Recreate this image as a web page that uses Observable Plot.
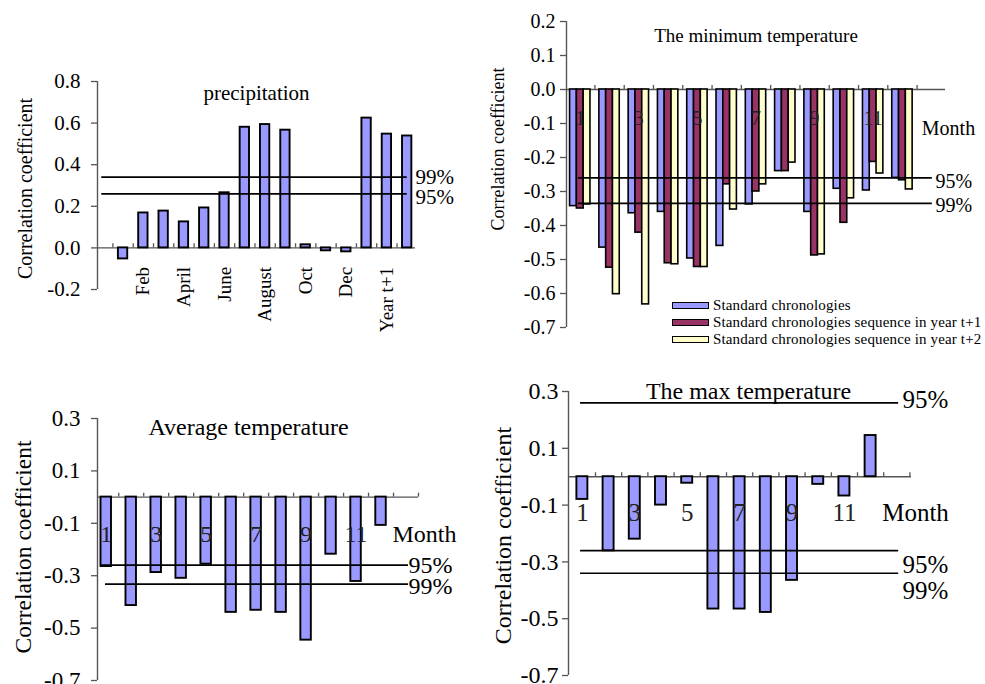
<!DOCTYPE html>
<html><head><meta charset="utf-8">
<script src="https://cdn.jsdelivr.net/npm/d3@7"></script>
<script src="https://cdn.jsdelivr.net/npm/@observablehq/plot@0.6"></script>
<style>
body{margin:0;background:#fff;}
#page{position:relative;width:985px;height:684px;overflow:hidden;font-family:"Liberation Serif","Times New Roman",serif;}
#page svg{position:absolute;overflow:visible;}
.legend{position:absolute;left:672px;top:297px;font-size:15px;line-height:17px;color:#000;letter-spacing:0.15px;}
.legend div{display:flex;align-items:center;height:17px;white-space:nowrap;}
.sw{width:35px;height:5px;border:1.8px solid #000;margin-right:4px;}
</style></head><body><div id="page"></div>
<script>
// ---------- data ----------
const months = [1,2,3,4,5,6,7,8,9,10,11,12];
const monthTickLabels = [1,3,5,7,9,11];

const precipCategories = ["Jan","Feb","March","April","May","June","July","August","Sep","Oct","Nov","Dec","Year t","Year t+1","Year t+2"];
const precipValues = [-0.053,0.168,0.177,0.125,0.192,0.265,0.58,0.593,0.566,0.015,-0.014,-0.019,0.624,0.547,0.538];
const precipThresholds = [{level:"99%", r:0.34},{level:"95%", r:0.26}];
const precipYTicks = [-0.2,0,0.2,0.4,0.6,0.8];

const minSeries = ["Standard chronologies","Standard chronologies sequence in year t+1","Standard chronologies sequence in year t+2"];
const minStd = [-0.343,-0.465,-0.364,-0.36,-0.497,-0.46,-0.338,-0.24,-0.36,-0.292,-0.297,-0.26];
const minT1  = [-0.35,-0.524,-0.421,-0.511,-0.522,-0.279,-0.30,-0.24,-0.488,-0.392,-0.213,-0.267];
const minT2  = [-0.338,-0.602,-0.632,-0.514,-0.522,-0.353,-0.279,-0.215,-0.485,-0.32,-0.247,-0.294];
const minThresholds = [{level:"95%", r:-0.26},{level:"99%", r:-0.335}];
const minYTicks = [0.2,0.1,0,-0.1,-0.2,-0.3,-0.4,-0.5,-0.6,-0.7];

const avgValues = [-0.265,-0.414,-0.288,-0.31,-0.256,-0.44,-0.432,-0.44,-0.546,-0.218,-0.322,-0.108];
const avgThresholds = [{level:"95%", r:-0.26},{level:"99%", r:-0.332}];

const maxValues = [-0.08,-0.261,-0.22,-0.1,-0.023,-0.466,-0.466,-0.478,-0.365,-0.027,-0.068,0.145];
const maxThresholds = [{level:"95%", r:0.26},{level:"95%", r:-0.26},{level:"99%", r:-0.34}];
const tempYTicks = [0.3,0.1,-0.1,-0.3,-0.5,-0.7];

const colors = ["#9999FF","#993366","#FFFFCC"];
const FONT = "Liberation Serif, Times New Roman, serif";
const page = document.getElementById("page");

function panel({left, top, width, height, margin, xDomain, yDomain, yTicks, tickPad, tickFont, tickLen, boundaries, marks}) {
  const svg = Plot.plot({
    width, height,
    marginTop: margin[0], marginRight: margin[1], marginBottom: margin[2], marginLeft: margin[3],
    x: {domain: xDomain, axis: null},
    y: {domain: yDomain, axis: null},
    style: {fontFamily: FONT, fontSize: tickFont + "px", background: "none", color: "#000", overflow: "visible"},
    marks: [
      Plot.ruleX([xDomain[0]], {stroke: "#555", strokeWidth: 1.4}),
      Plot.ruleY([0], {stroke: "#555", strokeWidth: 1.4}),
      Plot.ruleX(boundaries, {x: d => d, y1: 0, y2: tickLen, stroke: "#555", strokeWidth: 1.3}),
      Plot.axisY({ticks: yTicks, tickSize: 6, tickPadding: tickPad, tickFormat: d => d.toFixed(1), fontSize: tickFont, stroke: "#555", strokeWidth: 1.3, fill: "#000", label: null}),
      ...marks
    ]
  });
  svg.style.left = left + "px";
  svg.style.top = top + "px";
  page.appendChild(svg);
}

const BAR = {stroke: "#000", strokeWidth: 1.9};
const LINE = {stroke: "#000", strokeWidth: 1.7};

// ---------- A: precipitation ----------
const precipData = precipValues.map((v, i) => ({x: i + 1, v, name: precipCategories[i]}));
panel({
  left: 0, top: 60, width: 470, height: 300, margin: [21, 55, 71, 97],
  xDomain: [-0.26, 15.41], yDomain: [-0.2, 0.8], yTicks: precipYTicks, tickPad: 11, tickFont: 21,
  tickLen: 0.02, boundaries: d3.range(0.5, 15, 1),
  marks: [
    Plot.rect(precipData, {x1: d => d.x - 0.23, x2: d => d.x + 0.23, y1: 0, y2: "v", fill: colors[0], ...BAR}),
    Plot.ruleY(precipThresholds, {y: "r", x1: -0.05, x2: 15, ...LINE}),
    Plot.text(precipThresholds.slice(0,1), {y: "r", text: "level", frameAnchor: "right", textAnchor: "start", dy: 0, fontSize: 21}),
    Plot.text(precipThresholds.slice(1), {y: "r", text: "level", frameAnchor: "right", textAnchor: "start", dy: 3, fontSize: 21}),
    Plot.text(precipData.filter(d => d.x % 2 === 0), {x: "x", y: 0, text: "name", rotate: -90, textAnchor: "end", lineAnchor: "middle", dy: 19, fontSize: 19}),
    Plot.text(["precipitation"], {frameAnchor: "top", lineAnchor: "middle", dy: 12, fontSize: 21}),
    Plot.text(["Correlation coefficient"], {frameAnchor: "left", rotate: -90, textAnchor: "middle", lineAnchor: "middle", dx: -72, dy: 3, fontSize: 20})
  ]
});

// ---------- B: minimum temperature ----------
const minData = [];
[minStd, minT1, minT2].forEach((arr, s) => arr.forEach((v, i) => minData.push({x: months[i], s, v})));
const groupOffset = [-0.232, 0, 0.232];
panel({
  left: 480, top: 0, width: 505, height: 345, margin: [21, 40, 18, 86],
  xDomain: [0.53, 13.47], yDomain: [-0.7, 0.2], yTicks: minYTicks, tickPad: 5, tickFont: 20,
  tickLen: 0.012, boundaries: d3.range(1.5, 13, 1),
  marks: [
    Plot.rect(minData, {x1: d => d.x + groupOffset[d.s] - 0.116, x2: d => d.x + groupOffset[d.s] + 0.116, y1: 0, y2: "v", fill: d => colors[d.s], stroke: "#000", strokeWidth: 1.6}),
    Plot.ruleY(minThresholds, {y: "r", x1: 0.94, x2: 13.02, ...LINE}),
    Plot.text(minThresholds.slice(0,1), {y: "r", text: "level", frameAnchor: "right", textAnchor: "start", dx: -10, dy: 4, fontSize: 20}),
    Plot.text(minThresholds.slice(1), {y: "r", text: "level", frameAnchor: "right", textAnchor: "start", dx: -10, dy: 2, fontSize: 20}),
    Plot.text(monthTickLabels, {x: d => d, y: 0, text: d => String(d), dy: 29, fontSize: 20, fill: "#222"}),
    Plot.text(["Month"], {frameAnchor: "right", y: 0, textAnchor: "middle", dx: 3, dy: 39, fontSize: 20}),
    Plot.text(["The minimum temperature"], {frameAnchor: "top", lineAnchor: "middle", dy: 14, fontSize: 19}),
    Plot.text(["Correlation coefficient"], {frameAnchor: "left", rotate: -90, textAnchor: "middle", lineAnchor: "middle", dx: -68, dy: -25.5, fontSize: 18})
  ]
});
const legend = document.createElement("div");
legend.className = "legend";
legend.innerHTML = minSeries.map((s, i) => `<div><span class="sw" style="background:${colors[i]}"></span>${s}</div>`).join("");
page.appendChild(legend);

// ---------- C: average temperature ----------
const avgData = avgValues.map((v, i) => ({x: months[i], v}));
panel({
  left: 0, top: 400, width: 470, height: 284, margin: [18, 52, 4, 97],
  xDomain: [0.65, 13.5], yDomain: [-0.7, 0.3], yTicks: tempYTicks, tickPad: 11, tickFont: 23,
  tickLen: 0.015, boundaries: d3.range(1.5, 14, 1),
  marks: [
    Plot.rect(avgData, {x1: d => d.x - 0.21, x2: d => d.x + 0.21, y1: 0, y2: "v", fill: colors[0], ...BAR}),
    Plot.ruleY(avgThresholds.slice(0,1), {y: "r", x1: 0.77, x2: 13.1, ...LINE}),
    Plot.ruleY(avgThresholds.slice(1), {y: "r", x1: 0.97, x2: 13.1, ...LINE}),
    Plot.text(avgThresholds.slice(0,1), {y: "r", text: "level", frameAnchor: "right", textAnchor: "start", dx: -10, dy: 0, fontSize: 24}),
    Plot.text(avgThresholds.slice(1), {y: "r", text: "level", frameAnchor: "right", textAnchor: "start", dx: -10, dy: 2, fontSize: 24}),
    Plot.text(monthTickLabels, {x: d => d, y: 0, text: d => String(d), dy: 37, fontSize: 24, fill: "#222"}),
    Plot.text(["Month"], {frameAnchor: "right", y: 0, textAnchor: "middle", dx: 6, dy: 37, fontSize: 24}),
    Plot.text(["Average temperature"], {frameAnchor: "top", lineAnchor: "middle", dx: -9.5, dy: 9, fontSize: 24}),
    Plot.text(["Correlation coefficient"], {frameAnchor: "left", rotate: -90, textAnchor: "middle", lineAnchor: "middle", dx: -74, dy: -2.5, fontSize: 23.5})
  ]
});

// ---------- D: max temperature ----------
const maxData = maxValues.map((v, i) => ({x: months[i], v}));
panel({
  left: 490, top: 370, width: 495, height: 314, margin: [21, 74, 9, 78],
  xDomain: [0.47, 13.56], yDomain: [-0.7, 0.3], yTicks: tempYTicks, tickPad: 4, tickFont: 24,
  tickLen: 0.014, boundaries: d3.range(1.5, 14, 1),
  marks: [
    Plot.rect(maxData, {x1: d => d.x - 0.21, x2: d => d.x + 0.21, y1: 0, y2: "v", fill: colors[0], ...BAR}),
    Plot.ruleY(maxThresholds, {y: "r", x1: 0.93, x2: 13.07, ...LINE}),
    Plot.text(maxThresholds.slice(0,1), {y: "r", text: "level", frameAnchor: "right", textAnchor: "start", dx: -9, dy: -3, fontSize: 25}),
    Plot.text(maxThresholds.slice(1,2), {y: "r", text: "level", frameAnchor: "right", textAnchor: "start", dx: -9, dy: 14, fontSize: 25}),
    Plot.text(maxThresholds.slice(2), {y: "r", text: "level", frameAnchor: "right", textAnchor: "start", dx: -9, dy: 18, fontSize: 25}),
    Plot.text(monthTickLabels, {x: d => d, y: 0, text: d => String(d), dy: 36, fontSize: 25, fill: "#222"}),
    Plot.text(["Month"], {frameAnchor: "right", y: 0, textAnchor: "middle", dx: 4, dy: 36, fontSize: 25}),
    Plot.text(["The max temperature"], {frameAnchor: "top", lineAnchor: "middle", dx: 8.5, dy: 0, fontSize: 24}),
    Plot.text(["Correlation coefficient"], {frameAnchor: "left", rotate: -90, textAnchor: "middle", lineAnchor: "middle", dx: -65, dy: 2, fontSize: 24})
  ]
});
</script></body></html>
